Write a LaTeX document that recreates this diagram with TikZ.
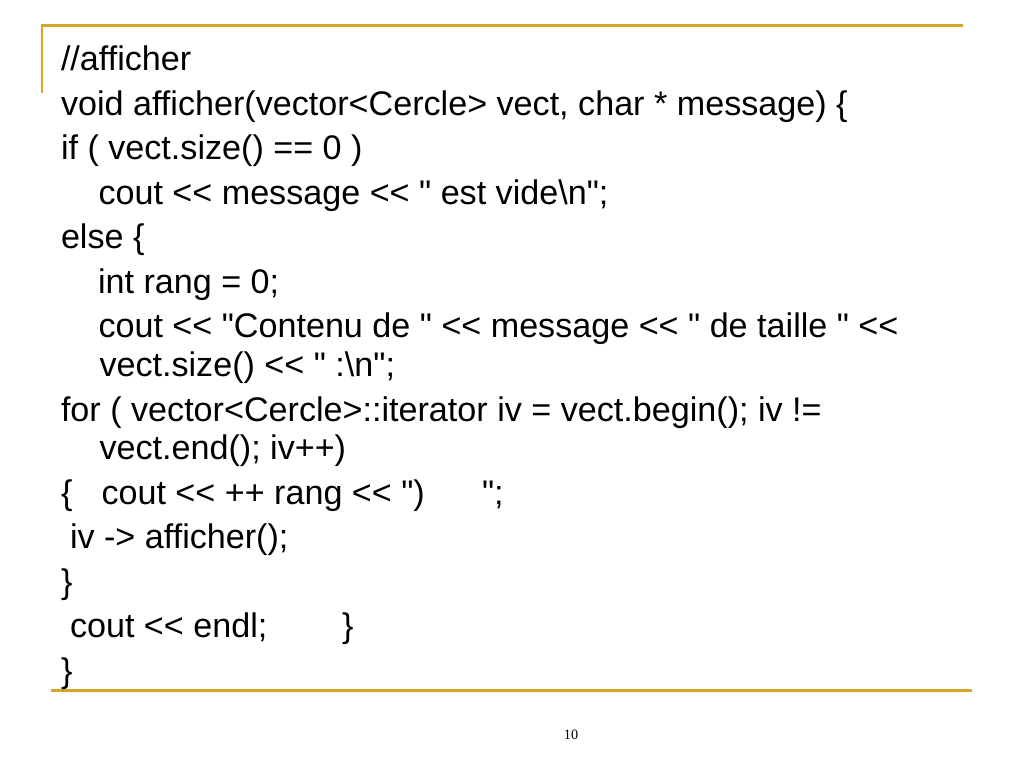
\documentclass[tikz,border=0pt]{standalone}
\usepackage{fontspec}
\setmainfont{Liberation Sans}[Ligatures=TeXOff]
\newfontfamily\pagefont{Liberation Serif}
\definecolor{gold}{RGB}{212,166,42}
\begin{document}
\begin{tikzpicture}[x=0.703125pt,y=-0.703125pt,
  code/.style={anchor=base west,inner sep=0pt,outer sep=0pt,font=\fontsize{24}{28}\selectfont},
  rule/.style={draw=gold,line width=1.5pt}]
\fill[white] (0,0) rectangle (1024,768);
\useasboundingbox (0,0) rectangle (1024,768);
% decorative rules
\coordinate (tl) at (42,25.5);
\coordinate (tr) at (963,25.5);
\coordinate (vb) at (42,93);
\coordinate (bl) at (51,690.5);
\coordinate (br) at (972,690.5);
\draw[rule] (tr) -- (tl) -- (vb);
\draw[rule,line width=2.1pt] (bl) -- (br);
% code lines
\node[code] (l1) at (61,71) {//afficher};
\node[code] (l2) at (61,115.5) {void afficher(vector<Cercle> vect, char * message) \{};
\node[code] (l3) at (61,160) {if ( vect.size() == 0 )};
\node[code] (l4) at (98.5,204.5) {cout << message << " est vide\textbackslash n";};
\node[code] (l5) at (61,249) {else \{};
\node[code] (l6) at (98,293.5) {int rang = 0;};
\node[code] (l7) at (98.5,338) {cout << "Contenu de " << message << " de taille " <<};
\node[code] (l8) at (99.5,376.5) {vect.size() << " :\textbackslash n";};
\node[code] (l9) at (61,421) {for ( vector<Cercle>::iterator iv = vect.begin(); iv !=};
\node[code] (l10) at (99.5,459.5) {vect.end(); iv++)};
\node[code] (l11a) at (61,504) {\{};
\node[code] (l11b) at (101.5,504) {cout << ++ rang << ")};
\node[code] (l11c) at (482,504) {";};
\node[code] (l12) at (70,548.5) {iv -> afficher();};
\node[code] (l13) at (61,593) {\}};
\node[code] (l14a) at (70,637.5) {cout << endl;};
\node[code] (l14b) at (342,637.5) {\}};
\node[code] (l15) at (61,682) {\}};
% page number
\node[anchor=base,inner sep=0pt,font=\pagefont\fontsize{10}{12}\selectfont] (pg) at (571,739.5) {10};
\end{tikzpicture}
\end{document}
